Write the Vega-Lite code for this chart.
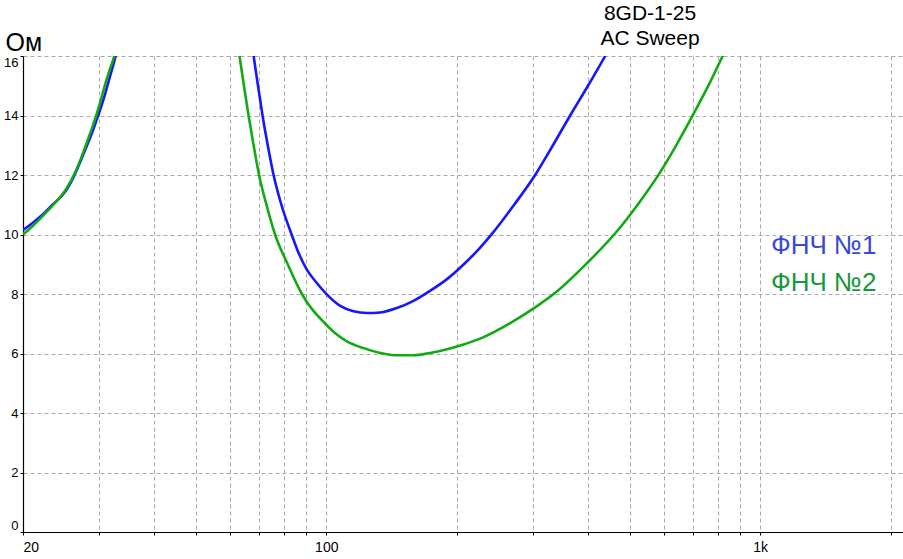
{
  "$schema": "https://vega.github.io/schema/vega-lite/v6.json",
  "width": 880,
  "height": 476,
  "autosize": {"type": "none"},
  "padding": {"left": 23, "top": 56, "right": 0, "bottom": 27},
  "background": "white",
  "config": {
    "view": {"stroke": null},
    "font": "Liberation Sans"
  },
  "title": {
    "text": ["8GD-1-25", "AC Sweep"],
    "anchor": "middle",
    "frame": "group",
    "dx": 187,
    "offset": -19,
    "fontSize": 21,
    "fontWeight": "normal",
    "font": "Liberation Sans",
    "lineHeight": 25,
    "color": "black"
  },
  "data": {
    "values": [
      {"f": 20, "z": 10.15, "s": "ФНЧ №1", "seg": "a"},
      {"f": 21, "z": 10.38, "s": "ФНЧ №1", "seg": "a"},
      {"f": 22, "z": 10.62, "s": "ФНЧ №1", "seg": "a"},
      {"f": 23.3, "z": 10.98, "s": "ФНЧ №1", "seg": "a"},
      {"f": 25.2, "z": 11.5, "s": "ФНЧ №1", "seg": "a"},
      {"f": 26.3, "z": 12.0, "s": "ФНЧ №1", "seg": "a"},
      {"f": 27.2, "z": 12.5, "s": "ФНЧ №1", "seg": "a"},
      {"f": 28.1, "z": 13.0, "s": "ФНЧ №1", "seg": "a"},
      {"f": 29.0, "z": 13.5, "s": "ФНЧ №1", "seg": "a"},
      {"f": 29.8, "z": 14.0, "s": "ФНЧ №1", "seg": "a"},
      {"f": 30.6, "z": 14.5, "s": "ФНЧ №1", "seg": "a"},
      {"f": 31.3, "z": 15.0, "s": "ФНЧ №1", "seg": "a"},
      {"f": 32.0, "z": 15.5, "s": "ФНЧ №1", "seg": "a"},
      {"f": 32.7, "z": 16.0, "s": "ФНЧ №1", "seg": "a"},
      {"f": 33.5, "z": 16.7, "s": "ФНЧ №1", "seg": "a"},
      {"f": 66.8, "z": 16.8, "s": "ФНЧ №1", "seg": "b"},
      {"f": 68.0, "z": 16.0, "s": "ФНЧ №1", "seg": "b"},
      {"f": 69.6, "z": 15.0, "s": "ФНЧ №1", "seg": "b"},
      {"f": 71.3, "z": 14.0, "s": "ФНЧ №1", "seg": "b"},
      {"f": 73.3, "z": 13.0, "s": "ФНЧ №1", "seg": "b"},
      {"f": 75.6, "z": 12.0, "s": "ФНЧ №1", "seg": "b"},
      {"f": 78.8, "z": 11.0, "s": "ФНЧ №1", "seg": "b"},
      {"f": 83.2, "z": 10.0, "s": "ФНЧ №1", "seg": "b"},
      {"f": 86.5, "z": 9.35, "s": "ФНЧ №1", "seg": "b"},
      {"f": 90.2, "z": 8.82, "s": "ФНЧ №1", "seg": "b"},
      {"f": 95.1, "z": 8.37, "s": "ФНЧ №1", "seg": "b"},
      {"f": 100.4, "z": 7.98, "s": "ФНЧ №1", "seg": "b"},
      {"f": 107.7, "z": 7.6, "s": "ФНЧ №1", "seg": "b"},
      {"f": 115.5, "z": 7.42, "s": "ФНЧ №1", "seg": "b"},
      {"f": 124.1, "z": 7.36, "s": "ФНЧ №1", "seg": "b"},
      {"f": 133.2, "z": 7.38, "s": "ФНЧ №1", "seg": "b"},
      {"f": 145.5, "z": 7.53, "s": "ФНЧ №1", "seg": "b"},
      {"f": 158.9, "z": 7.77, "s": "ФНЧ №1", "seg": "b"},
      {"f": 173.6, "z": 8.11, "s": "ФНЧ №1", "seg": "b"},
      {"f": 189.8, "z": 8.5, "s": "ФНЧ №1", "seg": "b"},
      {"f": 207.2, "z": 8.99, "s": "ФНЧ №1", "seg": "b"},
      {"f": 226.3, "z": 9.56, "s": "ФНЧ №1", "seg": "b"},
      {"f": 240.9, "z": 10.02, "s": "ФНЧ №1", "seg": "b"},
      {"f": 271, "z": 11.0, "s": "ФНЧ №1", "seg": "b"},
      {"f": 303, "z": 12.0, "s": "ФНЧ №1", "seg": "b"},
      {"f": 333, "z": 13.0, "s": "ФНЧ №1", "seg": "b"},
      {"f": 364.8, "z": 14.0, "s": "ФНЧ №1", "seg": "b"},
      {"f": 401, "z": 15.0, "s": "ФНЧ №1", "seg": "b"},
      {"f": 439.3, "z": 16.0, "s": "ФНЧ №1", "seg": "b"},
      {"f": 462, "z": 16.6, "s": "ФНЧ №1", "seg": "b"},
      {"f": 20, "z": 10.0, "s": "ФНЧ №2", "seg": "a"},
      {"f": 21, "z": 10.27, "s": "ФНЧ №2", "seg": "a"},
      {"f": 22, "z": 10.56, "s": "ФНЧ №2", "seg": "a"},
      {"f": 23.5, "z": 11.0, "s": "ФНЧ №2", "seg": "a"},
      {"f": 25.2, "z": 11.55, "s": "ФНЧ №2", "seg": "a"},
      {"f": 26.3, "z": 12.05, "s": "ФНЧ №2", "seg": "a"},
      {"f": 27.2, "z": 12.55, "s": "ФНЧ №2", "seg": "a"},
      {"f": 28.0, "z": 13.05, "s": "ФНЧ №2", "seg": "a"},
      {"f": 28.8, "z": 13.55, "s": "ФНЧ №2", "seg": "a"},
      {"f": 29.5, "z": 14.0, "s": "ФНЧ №2", "seg": "a"},
      {"f": 30.2, "z": 14.5, "s": "ФНЧ №2", "seg": "a"},
      {"f": 31.0, "z": 15.1, "s": "ФНЧ №2", "seg": "a"},
      {"f": 31.7, "z": 15.55, "s": "ФНЧ №2", "seg": "a"},
      {"f": 32.46, "z": 16.0, "s": "ФНЧ №2", "seg": "a"},
      {"f": 33.2, "z": 16.7, "s": "ФНЧ №2", "seg": "a"},
      {"f": 62.0, "z": 16.8, "s": "ФНЧ №2", "seg": "b"},
      {"f": 63.1, "z": 16.0, "s": "ФНЧ №2", "seg": "b"},
      {"f": 64.6, "z": 15.0, "s": "ФНЧ №2", "seg": "b"},
      {"f": 66.2, "z": 14.0, "s": "ФНЧ №2", "seg": "b"},
      {"f": 68.0, "z": 13.0, "s": "ФНЧ №2", "seg": "b"},
      {"f": 70.0, "z": 12.0, "s": "ФНЧ №2", "seg": "b"},
      {"f": 72.8, "z": 11.0, "s": "ФНЧ №2", "seg": "b"},
      {"f": 76.2, "z": 10.0, "s": "ФНЧ №2", "seg": "b"},
      {"f": 81.5, "z": 9.0, "s": "ФНЧ №2", "seg": "b"},
      {"f": 87.9, "z": 8.0, "s": "ФНЧ №2", "seg": "b"},
      {"f": 90.2, "z": 7.73, "s": "ФНЧ №2", "seg": "b"},
      {"f": 99.5, "z": 7.0, "s": "ФНЧ №2", "seg": "b"},
      {"f": 104.7, "z": 6.69, "s": "ФНЧ №2", "seg": "b"},
      {"f": 111.6, "z": 6.41, "s": "ФНЧ №2", "seg": "b"},
      {"f": 121.9, "z": 6.18, "s": "ФНЧ №2", "seg": "b"},
      {"f": 133.2, "z": 6.02, "s": "ФНЧ №2", "seg": "b"},
      {"f": 145.5, "z": 5.94, "s": "ФНЧ №2", "seg": "b"},
      {"f": 158.9, "z": 5.94, "s": "ФНЧ №2", "seg": "b"},
      {"f": 173.6, "z": 6.02, "s": "ФНЧ №2", "seg": "b"},
      {"f": 189.8, "z": 6.14, "s": "ФНЧ №2", "seg": "b"},
      {"f": 207.2, "z": 6.3, "s": "ФНЧ №2", "seg": "b"},
      {"f": 226.3, "z": 6.5, "s": "ФНЧ №2", "seg": "b"},
      {"f": 266, "z": 7.03, "s": "ФНЧ №2", "seg": "b"},
      {"f": 303, "z": 7.55, "s": "ФНЧ №2", "seg": "b"},
      {"f": 341, "z": 8.1, "s": "ФНЧ №2", "seg": "b"},
      {"f": 401, "z": 9.07, "s": "ФНЧ №2", "seg": "b"},
      {"f": 464, "z": 10.05, "s": "ФНЧ №2", "seg": "b"},
      {"f": 523, "z": 11.02, "s": "ФНЧ №2", "seg": "b"},
      {"f": 584, "z": 12.02, "s": "ФНЧ №2", "seg": "b"},
      {"f": 639, "z": 12.97, "s": "ФНЧ №2", "seg": "b"},
      {"f": 696, "z": 13.95, "s": "ФНЧ №2", "seg": "b"},
      {"f": 757, "z": 14.96, "s": "ФНЧ №2", "seg": "b"},
      {"f": 820, "z": 16.0, "s": "ФНЧ №2", "seg": "b"},
      {"f": 860, "z": 16.6, "s": "ФНЧ №2", "seg": "b"}
    ]
  },
  "mark": {"type": "line", "strokeWidth": 2.6, "clip": true, "interpolate": "monotone"},
  "encoding": {
    "x": {
      "field": "f",
      "type": "quantitative",
      "scale": {"type": "log", "domain": [20, 2134], "nice": false},
      "axis": {
        "title": null,
        "values": [20, 30, 40, 50, 60, 70, 80, 90, 100, 200, 300, 400, 500, 600, 700, 800, 900, 1000, 2000],
        "labelExpr": "datum.value == 20 ? '20' : datum.value == 100 ? '100' : datum.value == 1000 ? '1k' : ''",
        "labelFlush": true,
        "labelOverlap": false,
        "labelFont": "Liberation Sans",
        "labelFontSize": 14,
        "labelColor": "black",
        "labelPadding": 5,
        "tickSize": 3,
        "tickColor": "black",
        "domainColor": "black",
        "domainWidth": 1.2,
        "grid": true,
        "gridColor": "#a8a8a8",
        "gridDash": [4, 3],
        "gridWidth": 1
      }
    },
    "y": {
      "field": "z",
      "type": "quantitative",
      "scale": {"domain": [0, 16], "nice": false},
      "axis": {
        "title": "Ом",
        "titleAngle": 0,
        "titleAlign": "left",
        "titleBaseline": "alphabetic",
        "titleX": -18,
        "titleY": -6,
        "titleFont": "Liberation Sans",
        "titleFontSize": 25,
        "titleFontWeight": "normal",
        "titleColor": "black",
        "values": [0, 2, 4, 6, 8, 10, 12, 14, 16],
        "labelFlush": true,
        "labelFont": "Liberation Sans",
        "labelFontSize": 13,
        "labelColor": "black",
        "labelPadding": 2,
        "tickSize": 3,
        "tickColor": "black",
        "domainColor": "black",
        "domainWidth": 1.2,
        "grid": true,
        "gridColor": "#a8a8a8",
        "gridDash": [4, 3],
        "gridWidth": 1
      }
    },
    "color": {
      "field": "s",
      "type": "nominal",
      "scale": {"domain": ["ФНЧ №1", "ФНЧ №2"], "range": ["#1616ff", "#12aa12"]},
      "legend": {
        "title": null,
        "orient": "none",
        "legendX": 722,
        "legendY": 177,
        "padding": 0,
        "symbolSize": 0,
        "symbolStrokeWidth": 0,
        "symbolOpacity": 0,
        "labelOffset": 0,
        "labelFont": "Liberation Sans",
        "labelFontSize": 26,
        "rowPadding": 11,
        "encode": {
          "labels": {
            "update": {
              "fill": {"signal": "datum.value == 'ФНЧ №1' ? '#3a48d6' : '#16983a'"}
            }
          }
        }
      }
    },
    "detail": {"field": "seg", "type": "nominal"}
  }
}
